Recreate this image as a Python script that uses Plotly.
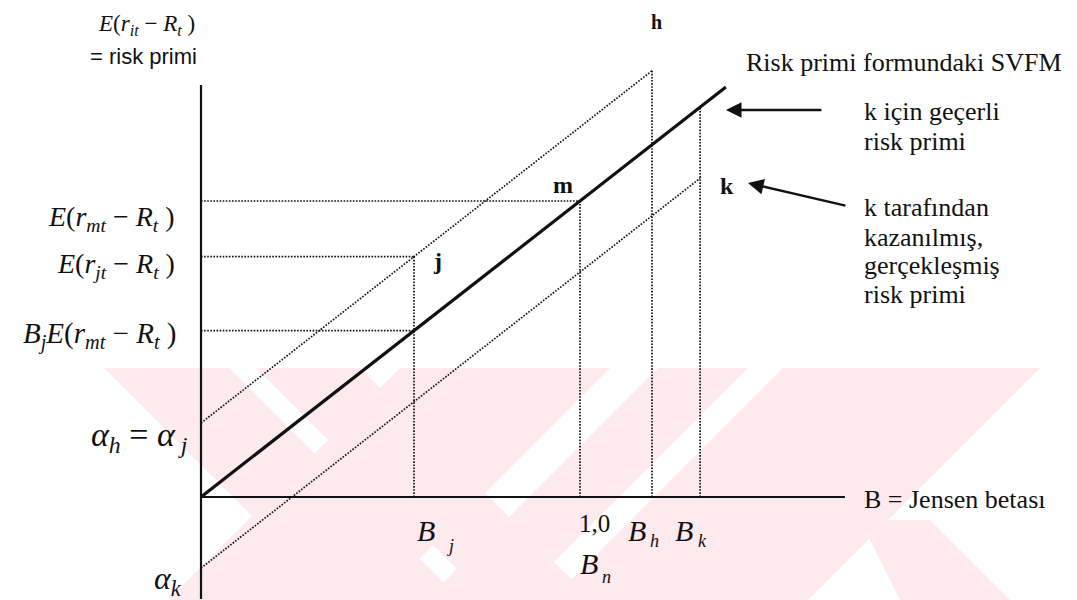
import plotly.graph_objects as go

# ---- data (beta units on x, risk premium units on y; E(r_m - R) = 1) ----
beta_j = 0.562
beta_m = 1.0
beta_h = 1.19
beta_k = 1.317
beta_end = 1.385
E_m = 1.0
alpha_hj = 0.25
alpha_k = -0.24
yaxis_top = 1.392
yaxis_bottom = -0.345
xaxis_end = 1.699

E_j = alpha_hj + beta_j * E_m
BjEm = beta_j * E_m
h_top = alpha_hj + beta_h * E_m
k_val = alpha_k + beta_k * E_m
sml_k = beta_k * E_m

# page is offset by the default 8px body margin
OFF = 8
W, H = 1077 - OFF, 600 - OFF
X0, Y0 = 201 - OFF, 497 - OFF   # figure pixel of origin
SX, SY = 379, 296               # pixels per unit
xr = [-X0 / SX, (W - X0) / SX]
yr = [-(H - Y0) / SY, Y0 / SY]

BLACK = "#111111"
SERIF = "Liberation Serif, Times New Roman, serif"
SANS = "Liberation Sans, Arial, sans-serif"
DOT = "1.6px,1.5px"
NB = "\u00a0"

fig = go.Figure()

def line(xs, ys, width=1.7, dash=None):
    fig.add_trace(go.Scatter(x=xs, y=ys, mode="lines", hoverinfo="skip",
                             line=dict(color=BLACK, width=width, dash=dash)))

# axes
line([0, 0], [yaxis_bottom, yaxis_top], 2.2)
line([0, xaxis_end], [0, 0], 2.2)
# SML
line([0, beta_end], [0, beta_end * E_m], 3.2)
# parallel dotted lines
line([0, beta_h], [alpha_hj, h_top], 1.7, DOT)
line([0, beta_k], [alpha_k, k_val], 1.7, DOT)
# verticals
line([beta_j, beta_j], [0, E_j], 1.7, DOT)
line([beta_m, beta_m], [0, E_m], 1.7, DOT)
line([beta_h, beta_h], [0, h_top], 1.7, DOT)
line([beta_k, beta_k], [0, sml_k], 1.7, DOT)
# horizontals
line([0, beta_m], [E_m, E_m], 1.7, DOT)
line([0, beta_j], [E_j, E_j], 1.7, DOT)
line([0, beta_j], [BjEm, BjEm], 1.7, DOT)

# ---- watermark (decorative, page-pixel geometry) ----
WM = "rgb(252,234,238)"
def px(x): return (x - OFF) / W
def py(y): return 1 - (y - OFF) / H
ytop, ybot = 368, 600
d = ybot - ytop
down_bands = [(104, 229), (256, 360)]
up_bands = [(400, 610), (658, 748), (783, 1040)]
shapes = []
def poly(pts):
    p = "M " + " L ".join(f"{px(a)} {py(b)}" for a, b in pts) + " Z"
    shapes.append(dict(type="path", path=p, xref="paper", yref="paper",
                       fillcolor=WM, line=dict(width=0), layer="below"))
for a, b in down_bands:
    poly([(a, ytop), (b, ytop), (b + d, ybot), (a + d, ybot)])
for a, b in up_bands:
    poly([(a, ytop), (b, ytop), (b - d, ybot), (a - d, ybot)])
# "\" leg on the right
poly([(860, 520), (930, 520), (1010, 600), (900, 600)])

# ---- text ----
ann = []
def txt(t, x, y, size, xa="center", family=SERIF, ya="middle"):
    ann.append(dict(text=t, x=px(x), y=py(y), xref="paper", yref="paper",
                    xanchor=xa, yanchor=ya, showarrow=False,
                    font=dict(family=family, size=size, color=BLACK)))

def eq(sub1, pre=""):
    return (pre + f"<i>E</i>(<i>r</i><sub><i>{sub1}</i></sub>{NB}−{NB}<i>R</i><sub><i>t</i></sub>{NB})")

txt(eq("it"), 146, 25, 23)
txt("= risk primi", 143, 56, 22, family=SANS)
txt(eq("mt"), 177, 219, 28, xa="right")
txt(eq("jt"), 177, 265, 28, xa="right")
txt(eq("mt", pre=f"<i>B</i><sub><i>j</i></sub>"), 178, 335, 29, xa="right")
txt(f"<i>α</i><sub><i>h</i></sub>{NB}={NB}<i>α</i><sub><i>{NB}j</i></sub>", 190, 437, 34, xa="right")
txt("<i>α</i><sub><i>k</i></sub>", 184, 580, 32, xa="right")

txt("<b>h</b>", 656, 22, 20)
txt("<b>m</b>", 563, 185, 24)
txt("<b>j</b>", 437, 261, 24)
txt("<b>k</b>", 727, 186, 24)

txt("Risk primi formundaki SVFM", 744, 63, 26, xa="left")
for t, y in [("k için geçerli", 112), ("risk primi", 142)]:
    txt(t, 862, y, 26, xa="left")
for t, y in [("k tarafından", 207), ("kazanılmış,", 237), ("gerçekleşmiş", 266), ("risk primi", 294)]:
    txt(t, 862, y, 26, xa="left")
txt("B = Jensen betası", 862, 499, 26, xa="left")

txt("<i>B</i>", 415, 530, 30, xa="left")
txt("<i>j</i>", 450, 546, 18)
txt("1,0", 594, 523, 25)
txt("<i>B</i>", 578, 563, 30, xa="left")
txt("<i>n</i>", 606, 577, 18)
txt("<i>B</i>", 626, 530, 30, xa="left")
txt("<i>h</i>", 654, 541, 18)
txt("<i>B</i>", 673, 530, 30, xa="left")
txt("<i>k</i>", 702, 541, 18)

# arrows
ann.append(dict(x=beta_end, y=(497 - 110) / SY, xref="x", yref="y", text="",
                showarrow=True, ax=97, ay=0, arrowhead=2, arrowsize=1.3,
                arrowwidth=2.4, arrowcolor=BLACK))
ann.append(dict(x=(748 - 201) / SX, y=(497 - 183) / SY, xref="x", yref="y", text="",
                showarrow=True, ax=99, ay=23, arrowhead=2, arrowsize=1.3,
                arrowwidth=2.4, arrowcolor=BLACK))

fig.update_layout(
    width=W, height=H, margin=dict(l=0, r=0, t=0, b=0),
    paper_bgcolor="white", plot_bgcolor="rgba(0,0,0,0)",
    showlegend=False, shapes=shapes, annotations=ann,
    xaxis=dict(range=xr, visible=False, fixedrange=True),
    yaxis=dict(range=yr, visible=False, fixedrange=True),
)
fig.write_html("out.html")
